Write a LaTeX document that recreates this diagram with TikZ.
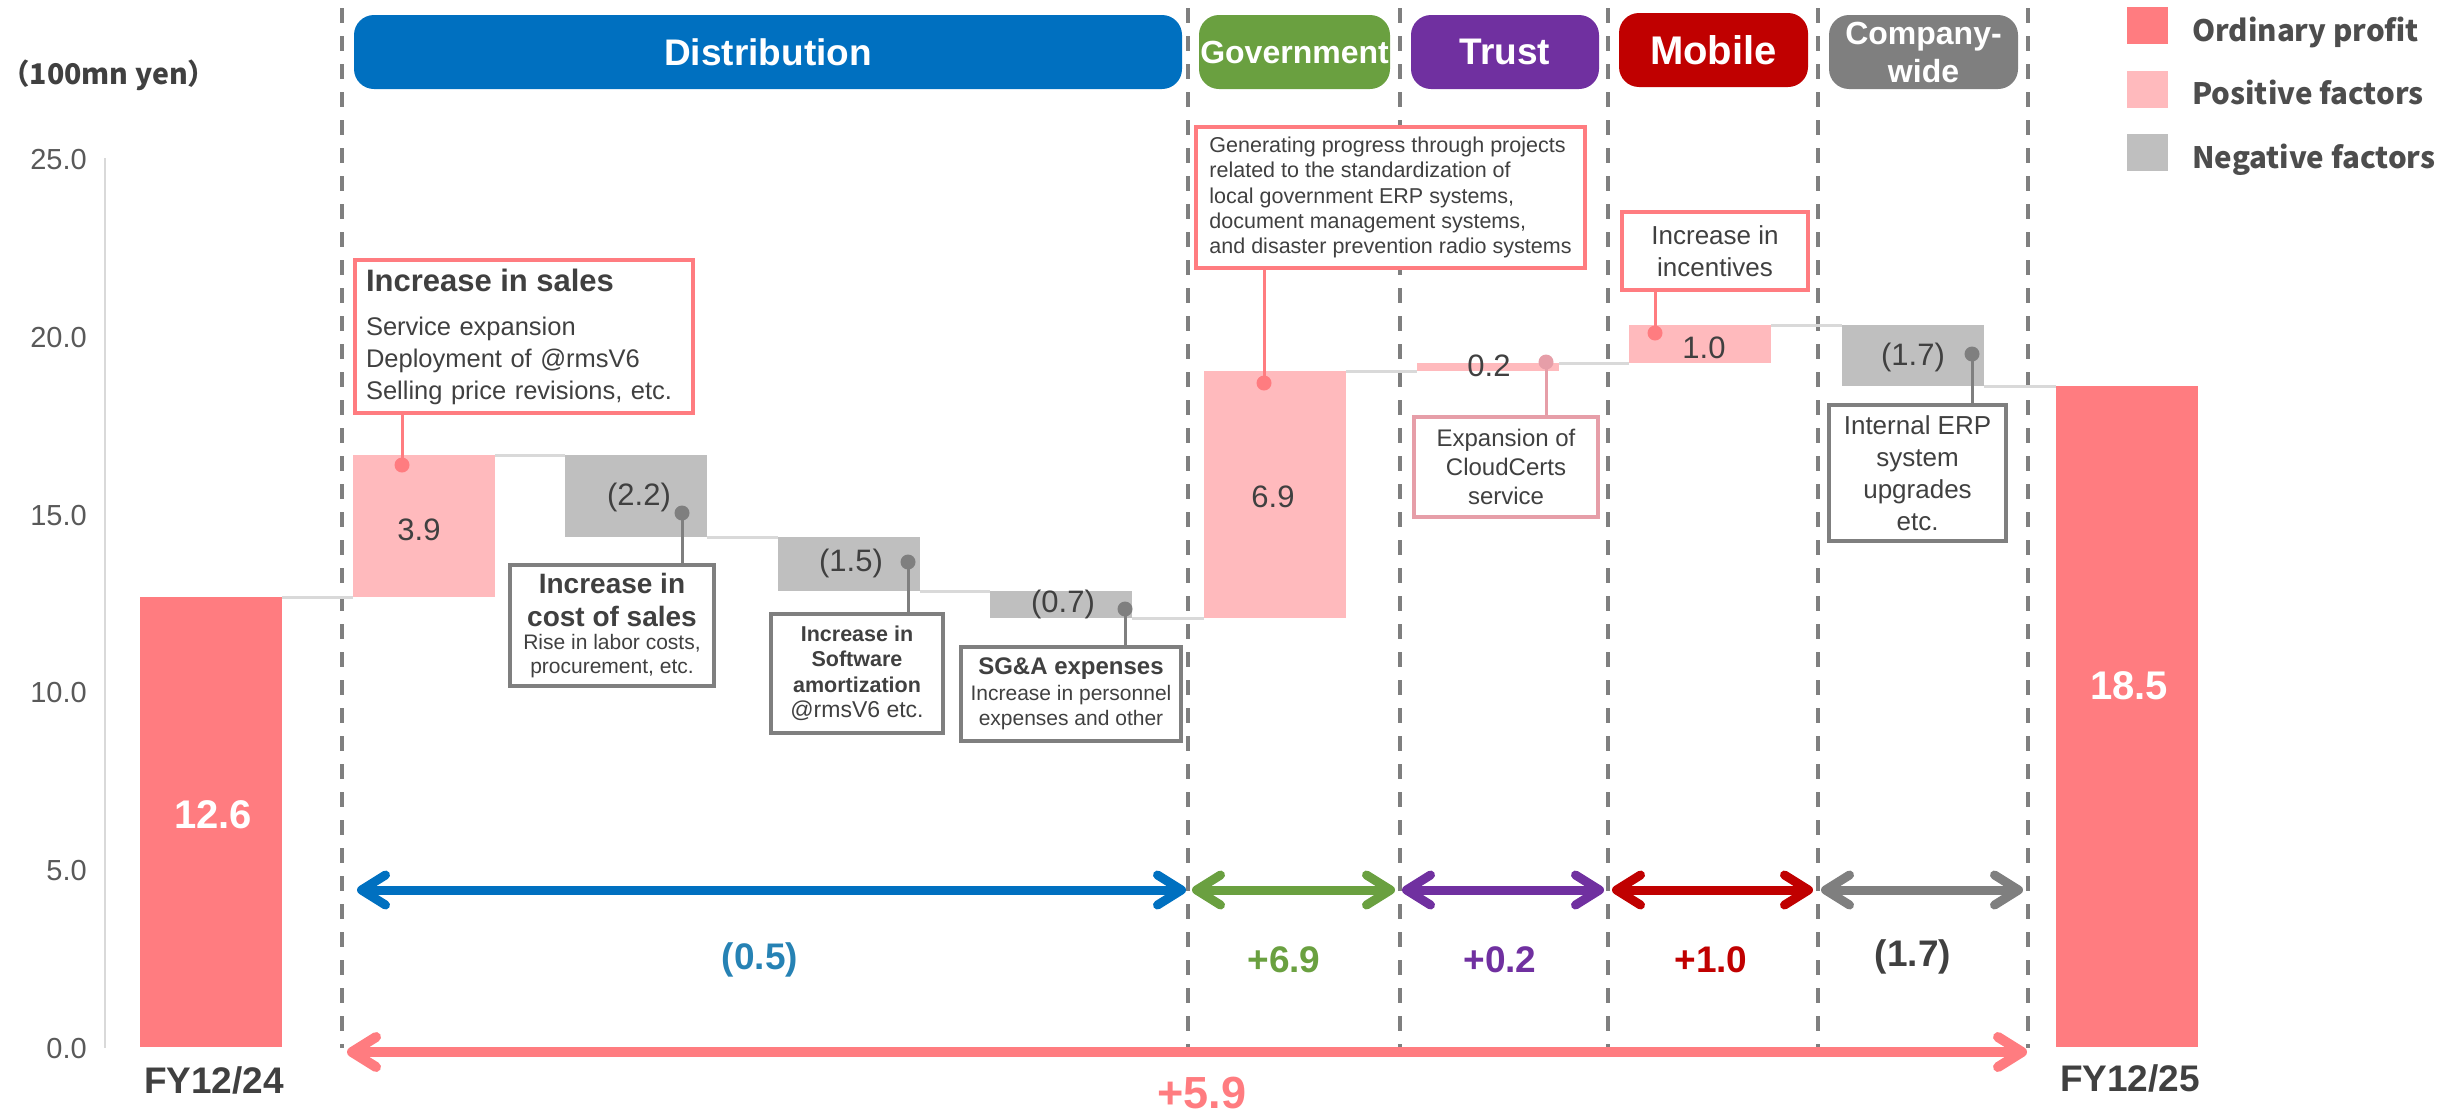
\documentclass[tikz,border=0pt]{standalone}
\usepackage{fontspec}
\setmainfont{Liberation Sans}
\newfontfamily\jpfont{Noto Sans CJK JP}
\usetikzlibrary{arrows.meta}
\definecolor{ordinary}{RGB}{255,124,128}
\definecolor{positive}{RGB}{255,186,189}
\definecolor{negative}{RGB}{191,191,191}
\definecolor{connector}{RGB}{217,217,217}
\definecolor{divider}{RGB}{127,127,127}
\definecolor{textdark}{RGB}{64,64,64}
\definecolor{axisgray}{RGB}{89,89,89}
\definecolor{legendgray}{RGB}{77,77,77}
\definecolor{distblue}{RGB}{0,112,192}
\definecolor{govgreen}{RGB}{106,160,64}
\definecolor{trustpurple}{RGB}{112,48,160}
\definecolor{mobilered}{RGB}{192,0,0}
\definecolor{cwgray}{RGB}{127,127,127}
\definecolor{cloudpink}{RGB}{230,158,168}
\definecolor{labelblue}{RGB}{38,130,180}
\newcommand{\fsz}[2]{\fontsize{#1}{#2}\selectfont}
\begin{document}
\begin{tikzpicture}[x=1pt,y=-1pt,
 barn/.style={inner sep=0pt, outer sep=0pt, minimum width=142pt},
 conn/.style={draw=connector, line width=3pt},
 divline/.style={draw=divider, line width=3.5pt, dash pattern=on 15pt off 13pt},
 pill/.style={rounded corners=20pt, minimum height=74pt, inner sep=0pt, text=white},
 note/.style={fill=white, inner sep=0pt, text=textdark, align=center},
 pinknote/.style={note, draw=ordinary, line width=3.5pt},
 graynote/.style={note, draw=divider, line width=4.5pt},
 dotn/.style={circle, inner sep=0pt, minimum size=15pt},
 leader/.style={line width=3pt},
 vallabel/.style={text=textdark, inner sep=0pt, font=\fsz{31}{36}},
 arr/.style={line width=9pt, {Straight Barb[length=24pt,width=30pt,round]}-{Straight Barb[length=24pt,width=30pt,round]}},
 sumlabel/.style={inner sep=0pt, font=\bfseries\fsz{37}{44}},
 ticklabel/.style={anchor=east, text=axisgray, font=\fsz{29}{34}, inner sep=0pt},
 legsq/.style={minimum width=41pt, minimum height=37pt, inner sep=0pt},
 legtext/.style={anchor=base west, inner sep=0pt, text=legendgray, font=\jpfont\bfseries\fsz{29.5}{34}},
]
\useasboundingbox (0,0) rectangle (2448,1117);

% dividers
\foreach \x in {342,1188,1400,1608,1818,2028}
  \draw[divline] (\x,8) -- (\x,1048);

% axis
\draw[draw=connector, line width=2pt] (105,158) -- (105,1048);
\node[ticklabel] (yl25) at (87,160) {25.0};
\node[ticklabel] (yl20) at (87,337.6) {20.0};
\node[ticklabel] (yl15) at (87,515.2) {15.0};
\node[ticklabel] (yl10) at (87,692.8) {10.0};
\node[ticklabel] (yl5) at (87,870.4) {5.0};
\node[ticklabel] (yl0) at (87,1048) {0.0};
\node[anchor=west, text=textdark, inner sep=0pt, font=\jpfont\bfseries\fsz{28.5}{34}] (unit) at (1,75) {（100mn yen）};

% header pills
\node[pill, fill=distblue, minimum width=828pt, font=\bfseries\fsz{37}{44}] (pdist) at (768,52) {Distribution};
\node[pill, fill=govgreen, minimum width=191pt, font=\bfseries\fsz{32}{38}] (pgov) at (1294.5,52) {Government};
\node[pill, fill=trustpurple, minimum width=188pt, font=\bfseries\fsz{37}{44}] (ptrust) at (1505,52) {Trust};
\node[pill, fill=mobilered, minimum width=189pt, font=\bfseries\fsz{40}{48}] (pmob) at (1713.5,50) {Mobile};
\node[pill, fill=cwgray, minimum width=189pt, align=center, font=\bfseries\fsz{32}{38}] (pcw) at (1923.5,52) {Company-\\wide};

% legend
\node[legsq, fill=ordinary] (lsq1) at (2147.5,25.5) {};
\node[legsq, fill=positive] (lsq2) at (2147.5,89.5) {};
\node[legsq, fill=negative] (lsq3) at (2147.5,152.5) {};
\node[legtext] (lt1) at (2192,41.5) {Ordinary profit};
\node[legtext] (lt2) at (2192,104.5) {Positive factors};
\node[legtext] (lt3) at (2192,168) {Negative factors};

% bars
\node[barn, fill=ordinary, minimum height=450pt] (fy24) at (211,822) {};
\node[barn, fill=positive, minimum height=142pt] (b39) at (424,526) {};
\node[barn, fill=negative, minimum height=82pt] (b22) at (635.5,496) {};
\node[barn, fill=negative, minimum height=54pt] (b15) at (849,564) {};
\node[barn, fill=negative, minimum height=27pt] (b07) at (1061,604.5) {};
\node[barn, fill=positive, minimum height=247pt] (b69) at (1275,494.5) {};
\node[barn, fill=positive, minimum height=8pt] (b02) at (1488,367) {};
\node[barn, fill=positive, minimum height=38pt] (b10) at (1700,344) {};
\node[barn, fill=negative, minimum height=61pt] (b17) at (1912.5,355.5) {};
\node[barn, fill=ordinary, minimum height=661pt] (fy25) at (2127,716.5) {};

% connectors between bars
\draw[conn] (fy24.north east) -- (b39.south west);
\draw[conn] (b39.north east) -- (b22.north west);
\draw[conn] (b22.south east) -- (b15.north west);
\draw[conn] (b15.south east) -- (b07.north west);
\draw[conn] (b07.south east) -- (b69.south west);
\draw[conn] (b69.north east) -- (b02.south west);
\draw[conn] (b02.north east) -- (b10.south west);
\draw[conn] (b10.north east) -- (b17.north west);
\draw[conn] (b17.south east) -- (fy25.north west);

% value labels
\node[inner sep=0pt, text=white, font=\bfseries\fsz{40}{48}] (v126) at (213,815) {12.6};
\node[inner sep=0pt, text=white, font=\bfseries\fsz{40}{48}] (v185) at (2129,686) {18.5};
\node[vallabel] (l39) at (419,530) {3.9};
\node[vallabel] (l22) at (639,497) {(2.2)};
\node[vallabel] (l15) at (851,563) {(1.5)};
\node[vallabel] (l07) at (1063,604) {(0.7)};
\node[vallabel] (l69) at (1273,497) {6.9};
\node[vallabel] (l02) at (1489,366) {0.2};
\node[vallabel] (l10) at (1704,348) {1.0};
\node[vallabel] (l17) at (1913,357) {(1.7)};

% annotation boxes
\node[pinknote, align=left, minimum width=338pt, minimum height=153pt, text width=316pt, font=\fsz{25.5}{32}] (salesbox) at (524,336.5)
  {{\bfseries\fsz{31}{32}Increase in sales}\\[12pt]Service expansion\\Deployment of @rmsV6\\Selling price revisions, etc.};
\node[graynote, minimum width=204pt, minimum height=121pt, font=\fsz{21}{24}] (costbox) at (612,625.5)
  {{\bfseries\fsz{28}{33}Increase in}\\[9pt]{\bfseries\fsz{28}{33}cost of sales}\\[-1pt]Rise in labor costs,\\procurement, etc.};
\node[graynote, minimum width=172pt, minimum height=119pt, font=\fsz{23}{25.5}] (softbox) at (857,673.5)
  {{\bfseries\fsz{21.5}{25.5}Increase in}\\{\bfseries\fsz{21.5}{25.5}Software}\\{\bfseries\fsz{21.5}{25.5}amortization}\\@rmsV6 etc.};
\node[graynote, minimum width=220pt, minimum height=94pt, font=\fsz{21}{25.5}] (sgabox) at (1071,694)
  {{\bfseries\fsz{24}{25.5}SG\&A expenses}\\Increase in personnel\\expenses and other};
\node[pinknote, align=left, minimum width=389pt, minimum height=141pt, font=\fsz{21.5}{25.3}] (govbox) at (1390.5,197.5)
  {Generating progress through projects\\related to the standardization of\\local government ERP systems,\\document management systems,\\and disaster prevention radio systems};
\node[pinknote, minimum width=186pt, minimum height=78pt, font=\fsz{26}{32}] (mobbox) at (1715,251)
  {Increase in\\incentives};
\node[note, draw=cloudpink, line width=3.5pt, minimum width=184pt, minimum height=100pt, font=\fsz{24}{29}] (cloudbox) at (1506,467)
  {Expansion of\\CloudCerts\\service};
\node[graynote, minimum width=177pt, minimum height=136pt, font=\fsz{26}{32}] (erpbox) at (1917.5,473)
  {Internal ERP\\system\\upgrades\\etc.};

% dots and leaders
\node[dotn, fill=ordinary] (d39) at (402,465) {};
\node[dotn, fill=divider] (d22) at (682,513) {};
\node[dotn, fill=divider] (d15) at (908,562) {};
\node[dotn, fill=divider] (d07) at (1125,609) {};
\node[dotn, fill=ordinary] (d69) at (1264,383) {};
\node[dotn, fill=cloudpink] (d02) at (1546,362) {};
\node[dotn, fill=ordinary] (d10) at (1655,333) {};
\node[dotn, fill=divider] (d17) at (1972,354) {};
\draw[leader, draw=ordinary] (d39.center) -- (d39.center |- salesbox.south);
\draw[leader, draw=divider] (d22.center) -- (d22.center |- costbox.north);
\draw[leader, draw=divider] (d15.center) -- (d15.center |- softbox.north);
\draw[leader, draw=divider] (d07.center) -- (d07.center |- sgabox.north);
\draw[leader, draw=ordinary] (d69.center) -- (d69.center |- govbox.south);
\draw[leader, draw=cloudpink] (d02.center) -- (d02.center |- cloudbox.north);
\draw[leader, draw=ordinary] (d10.center) -- (d10.center |- mobbox.south);
\draw[leader, draw=divider] (d17.center) -- (d17.center |- erpbox.north);

% segment arrows
\coordinate (aD1) at (357,890);  \coordinate (aD2) at (1186,890);
\coordinate (aG1) at (1192,890); \coordinate (aG2) at (1395,890);
\coordinate (aT1) at (1402,890); \coordinate (aT2) at (1604,890);
\coordinate (aM1) at (1612,890); \coordinate (aM2) at (1813,890);
\coordinate (aC1) at (1821,890); \coordinate (aC2) at (2023,890);
\coordinate (aA1) at (347,1052); \coordinate (aA2) at (2027,1052);
\draw[arr, draw=distblue] (aD1) -- (aD2);
\draw[arr, draw=govgreen] (aG1) -- (aG2);
\draw[arr, draw=trustpurple] (aT1) -- (aT2);
\draw[arr, draw=mobilered] (aM1) -- (aM2);
\draw[arr, draw=cwgray] (aC1) -- (aC2);
\draw[arr, line width=10pt, draw=ordinary] (aA1) -- (aA2);

% segment totals
\node[sumlabel, text=labelblue] (sD) at (760,960) {(0.5)};
\node[sumlabel, text=govgreen] (sG) at (1284,960) {+6.9};
\node[sumlabel, text=trustpurple] (sT) at (1500,960) {+0.2};
\node[sumlabel, text=mobilered] (sM) at (1711,960) {+1.0};
\node[sumlabel, text=textdark] (sC) at (1913,957) {(1.7)};
\node[inner sep=0pt, text=ordinary, font=\bfseries\fsz{45}{54}] (sA) at (1202,1093) {+5.9};

% year labels
\node[inner sep=0pt, text=textdark, font=\bfseries\fsz{37}{44}] (fy24lab) at (214,1080) {FY12/24};
\node[inner sep=0pt, text=textdark, font=\bfseries\fsz{37}{44}] (fy25lab) at (2130,1078) {FY12/25};
\end{tikzpicture}
\end{document}
